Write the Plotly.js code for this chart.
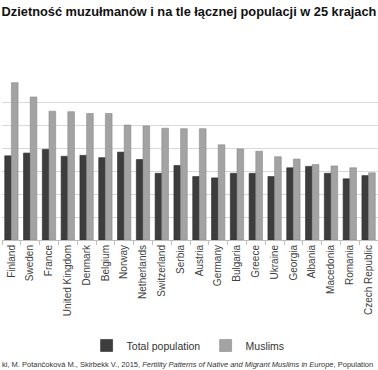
<!DOCTYPE html>
<html>
<head>
<meta charset="utf-8">
<script src="https://cdn.plot.ly/plotly-3.0.1.min.js"></script>
<style>html,body{margin:0;padding:0;background:#fff;}#chart{width:378px;height:370px;}</style>
</head>
<body>
<div id="chart"></div>
<script>
const countries = ["Finland","Sweden","France","United Kingdom","Denmark","Belgium","Norway","Netherlands","Switzerland","Serbia","Austria","Germany","Bulgaria","Greece","Ukraine","Georgia","Albania","Macedonia","Romania","Czech Republic"];
const totalPopulation = [1.83,1.89,1.97,1.82,1.84,1.79,1.91,1.75,1.45,1.62,1.38,1.35,1.45,1.45,1.38,1.57,1.60,1.45,1.33,1.40];
const muslims = [3.42,3.11,2.80,2.79,2.75,2.75,2.50,2.48,2.43,2.42,2.42,2.07,1.98,1.93,1.81,1.76,1.64,1.61,1.57,1.46];
const seriesNames = ["Total population","Muslims"];
const titleText = "Dzietność muzułmanów i na tle łącznej populacji w 25 krajach";
const sourceText = "ki, M. Potančoková M., Skirbekk V., 2015, <i>Fertility Patterns of Native and Migrant Muslims in Europe</i>, Population";

const data = [
  {type:"bar", name:seriesNames[0], x:countries, y:totalPopulation,
   marker:{color:"#3d3d3d", line:{color:"#2a2a2a", width:0.6}}},
  {type:"bar", name:seriesNames[1], x:countries, y:muslims,
   marker:{color:"#a3a3a3", line:{color:"#8a8a8a", width:0.6}}}
];
const layout = {
  width:378, height:370,
  margin:{l:2, r:0, t:79, b:130},
  paper_bgcolor:"#fff", plot_bgcolor:"#fff",
  barmode:"group", bargap:0.29, bargroupgap:0,
  font:{family:"Liberation Sans, Arial, sans-serif", color:"#404040"},
  title:{text:"<b>"+titleText+"</b>", x:0.5, xanchor:"center", y:0.968, yanchor:"middle",
         font:{family:"Liberation Sans, sans-serif", size:12.8, color:"#111"}},
  xaxis:{type:"category", tickangle:-90, tickfont:{size:10, color:"#404040"},
         showline:true, linecolor:"#bfbfbf", linewidth:1,
         ticks:"outside", ticklen:4, tickcolor:"#bfbfbf", tickson:"boundaries",
         showgrid:false, fixedrange:true},
  yaxis:{range:[0,3.5], dtick:0.5, showticklabels:false, showgrid:true,
         gridcolor:"#d9d9d9", gridwidth:1, zeroline:false, showline:false, fixedrange:true},
  showlegend:true,
  legend:{orientation:"h", x:0.225, xanchor:"left", y:-0.655, yanchor:"middle",
          font:{size:10.5, color:"#333"}, entrywidth:74, itemwidth:30},
  annotations:[
    {text:sourceText, xref:"paper", yref:"paper", x:-0.005, y:-0.775, xanchor:"left", yanchor:"middle",
     showarrow:false, font:{size:7.5, color:"#333", family:"Liberation Sans, Arial, sans-serif"}}
  ]
};
Plotly.newPlot("chart", data, layout, {displayModeBar:false, staticPlot:true});
</script>
</body>
</html>
